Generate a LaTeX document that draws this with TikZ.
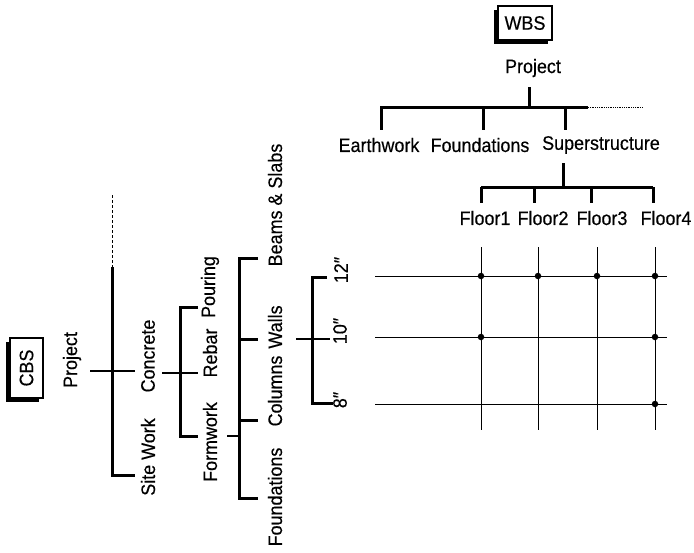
\documentclass[tikz,border=0pt]{standalone}
\usepackage{fontspec}
\setmainfont{Liberation Sans}[FakeStretch=0.92, FakeBold=0.35]
\begin{document}
\begin{tikzpicture}[x=1pt,y=-1pt,
  lbl/.style={font=\fontsize{19.5}{21}\selectfont, inner sep=0pt},
  vlbl/.style={lbl, rotate=90},
  boxnode/.style={draw, line width=1.5pt, fill=white, inner sep=0pt, font=\fontsize{19.5}{21}\selectfont},
  thk/.style={line width=3pt},
  med/.style={line width=2.2pt},
  thn/.style={line width=0.8pt},
  dotmark/.style={circle, fill=black, inner sep=0pt, minimum size=6.5pt}
]
\useasboundingbox (0,0) rectangle (694,552);

% ---------- WBS ----------
\fill (494,10) rectangle (548,44);
\node[boxnode, minimum width=54pt, minimum height=34pt] (wbs) at (525,23) {WBS};

\node[lbl] (wproj) at (533,68) {Project};
\node[lbl] (earth) at (379,145) {Earthwork};
\node[lbl] (wfound) at (480,145) {Foundations};
\node[lbl] (super) at (601,145) {Superstructure};
\node[lbl] (f1) at (485,218) {Floor1};
\node[lbl] (f2) at (543,218) {Floor2};
\node[lbl] (f3) at (602,218) {Floor3};
\node[lbl] (f4) at (666,218) {Floor4};

\coordinate (wj) at (529,107);
\coordinate (wl) at (380,107);
\coordinate (wr) at (588,107);
\coordinate (wdot) at (643,107);
\draw[thk] (529,87) -- (wj);
\draw[thk] (wl) -- (wr);
\draw[thn, densely dotted] (wr) -- (wdot);
\draw[thk] (381,107) -- (381,130);
\draw[thk] (483,107) -- (483,130);
\draw[thk] (565,107) -- (565,130);

\coordinate (sj) at (563,187);
\draw[thk] (563,163) -- (sj);
\draw[thk] (481,187) -- (653,187);
\foreach \x in {481,534,591,653} \draw[thk] (\x,187) -- (\x,203);

% ---------- grid ----------
\foreach \y in {276,337,404} \draw[thn] (375,\y) -- (667,\y);
\foreach \x in {481,538,597,655} \draw[thn] (\x,247) -- (\x,430);
\foreach \p in {(481,276),(538,276),(597,276),(655,276),(481,337),(655,337),(655,404)}
  \node[dotmark] at \p {};

% ---------- CBS ----------
\fill (6,342) rectangle (39,402);
\node[boxnode, rotate=90, minimum width=60pt, minimum height=33pt] (cbs) at (26.5,368) {CBS};

\node[vlbl] (cproj) at (72,360) {Project};
\node[vlbl] (concrete) at (148,356) {Concrete};
\node[vlbl] (site) at (148,457) {Site Work};
\node[vlbl] (pour) at (210,287) {Pouring};
\node[vlbl] (rebar) at (210,353) {Rebar};
\node[vlbl] (form) at (210,442) {Formwork};
\node[vlbl] (beams) at (275,205) {Beams \& Slabs};
\node[vlbl] (walls) at (275,327) {Walls};
\node[vlbl] (cols) at (275,391) {Columns};
\node[vlbl] (cfound) at (275,497) {Foundations};
\node[vlbl] (t12) at (341,270) {12″};
\node[vlbl] (t10) at (340,331) {10″};
\node[vlbl] (t8) at (340,400) {8″};

% project level
\draw[thn, densely dashed] (112,195) -- (112,267);
\draw[thk] (112,267) -- (112,475) -- (135,475);
\draw[med] (90,371) -- (135,371);
% concrete level
\draw[med] (162,373) -- (198,373);
\draw[thk] (198,307) -- (180,307) -- (180,436) -- (198,436);
% formwork level
\draw[med] (227,436) -- (239,436);
\draw[thk] (258,258) -- (239,258) -- (239,498) -- (258,498);
\draw[thk] (239,339) -- (258,339);
\draw[thk] (239,420) -- (258,420);
% walls level
\draw[med] (296,339) -- (330,339);
\draw[thk] (327,277) -- (312,277) -- (312,403) -- (333,403);
\end{tikzpicture}
\end{document}
